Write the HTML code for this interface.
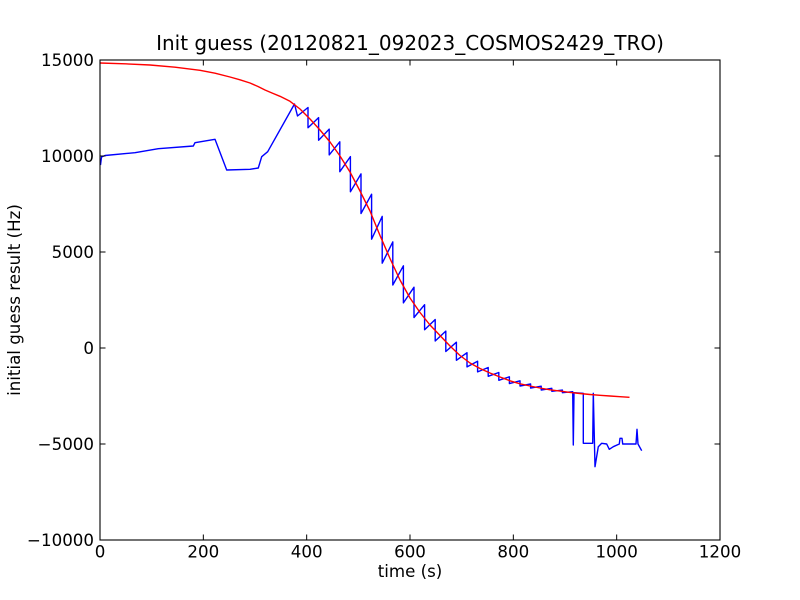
<!DOCTYPE html>
<html>
<head>
<meta charset="utf-8">
<style>
  html,body{margin:0;padding:0;background:#ffffff;}
  svg{display:block;}
  text{font-family:"DejaVu Sans","Liberation Sans",sans-serif;fill:#000;}
</style>
</head>
<body>
<svg width="800" height="600" viewBox="0 0 800 600" xmlns="http://www.w3.org/2000/svg">
  <rect x="0" y="0" width="800" height="600" fill="#ffffff"/>
  <defs>
    <clipPath id="ax"><rect x="100" y="60" width="620" height="480"/></clipPath>
  </defs>

  <g clip-path="url(#ax)" fill="none" stroke-linejoin="round" stroke-linecap="butt">
    <!-- blue series -->
    <path stroke="#0000ff" stroke-width="1.4" d="M100.5,165 L101.5,157 L105,155.5 L135,152.7 L158.3,148.7 L193.3,146 L195,142.7 L215,139.3 L226.7,170 L250,169.3 L258.3,168 L261.7,156.7 L267.7,151.7 L294.5,104 L297.5,116
      L308,107.5 L308,127.8
      L318.6,117.6 L318.6,140.3
      L329.2,129.1 L329.2,154.9
      L339.8,141.8 L339.8,171.7
      L350.4,156.6 L350.4,191.8
      L361,173.9 L361,213.5
      L371.6,194.2 L371.6,239.2
      L382.2,216.4 L382.2,263.2
      L392.8,241.9 L392.8,285
      L403.4,265.8 L403.4,302.9
      L414,287.2 L414,317.5
      L424.6,304.7 L424.6,329.8
      L435.2,319.5 L435.2,341
      L445.8,331.1 L445.8,351.5
      L456.4,342.2 L456.4,360.3
      L467,352.7 L467,366.9
      L477.6,361.2 L477.6,371.9
      L488.2,367.5 L488.2,376.3
      L498.8,372.5 L498.8,380.3
      L509.4,376.8 L509.4,383.6
      L520,380.8 L520,386
      L530.6,384 L530.6,388.1
      L541.2,386.2 L541.2,390
      L551.8,388.3 L551.8,391.3
      L562.4,390.1 L562.4,392.7
      L572.7,391.7 L573.3,445 L574,392.7 L583.3,393.3 L583.3,443.3 L592.7,443.3 L593.3,393.3 L595,466.7 L598.3,446.7 L601.7,443.3 L606.7,444 L609.3,449.3 L613.3,446.7 L619.3,444 L620,438.3 L622,438.3 L622.7,444 L636,444 L637,429.3 L638,444 L641.7,450.7"/>
    <!-- red series -->
    <polyline stroke="#ff0000" stroke-width="1.4" points="100,63 125,63.8 150,65 175,67.2 200,70.3 215,73.2 230,77 240,79.8 250,83 258,86.5 265,90 272,93 280,96.3 290,101.3 300,109 310,119 320,130 330,142 340,156 350,172 360,191 370,211 380,235.5 390,258.5 400,280 410,298 420,312.5 430,325 440,335.5 450,346 460,355.5 470,363 480,368.5 490,373 500,377 510,380.8 520,383.8 530,386 540,388 550,389.8 560,391.1 570,392.4 580,393.5 590,394.5 600,395.3 610,396 620,396.7 629.5,397.3"/>
  </g>

  <!-- axes frame -->
  <rect x="100" y="60" width="620" height="480" fill="none" stroke="#000" stroke-width="1.1"/>

  <!-- ticks -->
  <g stroke="#000" stroke-width="1">
    <line x1="203.33" y1="540" x2="203.33" y2="534.5"/>
    <line x1="306.67" y1="540" x2="306.67" y2="534.5"/>
    <line x1="410" y1="540" x2="410" y2="534.5"/>
    <line x1="513.33" y1="540" x2="513.33" y2="534.5"/>
    <line x1="616.67" y1="540" x2="616.67" y2="534.5"/>
    <line x1="203.33" y1="60" x2="203.33" y2="65.5"/>
    <line x1="306.67" y1="60" x2="306.67" y2="65.5"/>
    <line x1="410" y1="60" x2="410" y2="65.5"/>
    <line x1="513.33" y1="60" x2="513.33" y2="65.5"/>
    <line x1="616.67" y1="60" x2="616.67" y2="65.5"/>
    <line x1="100" y1="444" x2="105.5" y2="444"/>
    <line x1="100" y1="348" x2="105.5" y2="348"/>
    <line x1="100" y1="252" x2="105.5" y2="252"/>
    <line x1="100" y1="156" x2="105.5" y2="156"/>
    <line x1="720" y1="444" x2="714.5" y2="444"/>
    <line x1="720" y1="348" x2="714.5" y2="348"/>
    <line x1="720" y1="252" x2="714.5" y2="252"/>
    <line x1="720" y1="156" x2="714.5" y2="156"/>
  </g>

  <!-- x tick labels -->
  <g font-size="16.67" text-anchor="middle">
    <text x="100" y="557.5">0</text>
    <text x="203.33" y="557.5">200</text>
    <text x="306.67" y="557.5">400</text>
    <text x="410" y="557.5">600</text>
    <text x="513.33" y="557.5">800</text>
    <text x="616.67" y="557.5">1000</text>
    <text x="720" y="557.5">1200</text>
  </g>

  <!-- y tick labels -->
  <g font-size="16.67" text-anchor="end">
    <text x="94" y="546">−10000</text>
    <text x="94" y="450">−5000</text>
    <text x="94" y="354">0</text>
    <text x="94" y="258">5000</text>
    <text x="94" y="162">10000</text>
    <text x="94" y="66">15000</text>
  </g>

  <!-- axis labels -->
  <text x="410" y="577" font-size="16.67" text-anchor="middle">time (s)</text>
  <text x="0" y="0" font-size="16.67" text-anchor="middle" transform="translate(20,300) rotate(-90)">initial guess result (Hz)</text>

  <!-- title -->
  <text x="410" y="50" font-size="20" text-anchor="middle">Init guess (20120821_092023_COSMOS2429_TRO)</text>
</svg>
</body>
</html>
